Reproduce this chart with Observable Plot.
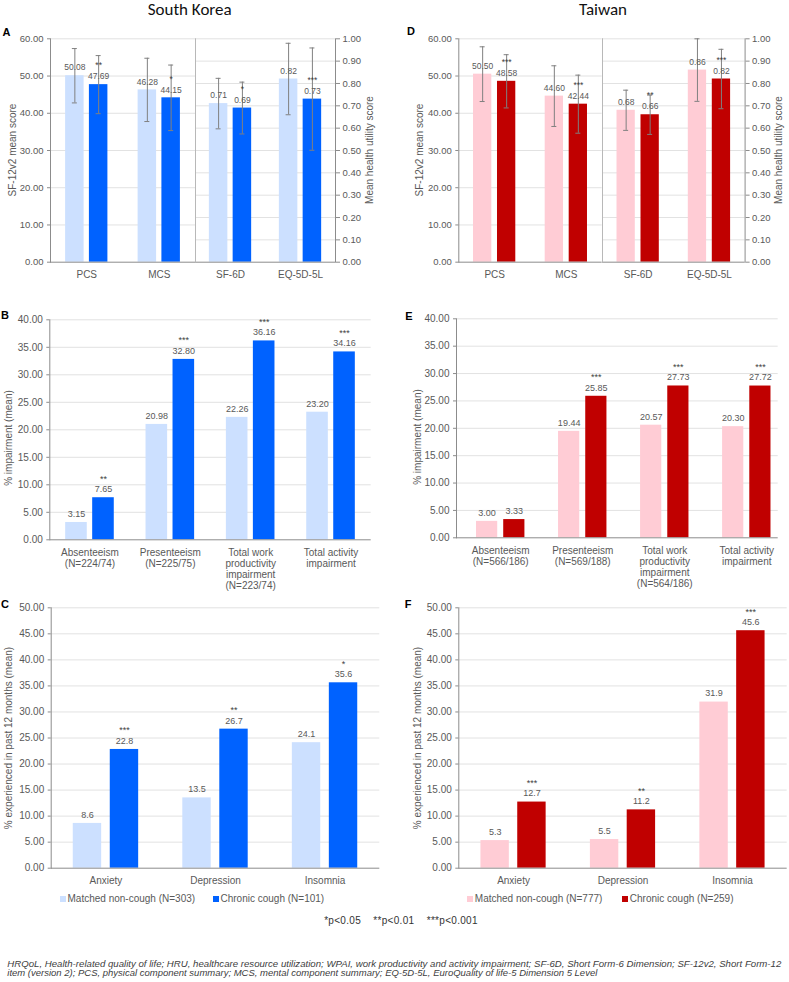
<!DOCTYPE html>
<html>
<head>
<meta charset="utf-8">
<script src="https://cdn.jsdelivr.net/npm/d3@7"></script>
<script src="https://cdn.jsdelivr.net/npm/@observablehq/plot@0.6"></script>
<style>
  html, body { margin: 0; padding: 0; background: #fff; }
  #root { position: relative; width: 789px; height: 982px; overflow: hidden; background: #fff;
          font-family: "Liberation Sans", Arial, Helvetica, sans-serif; color: #595959; }
  .lbl { position: absolute; white-space: nowrap; line-height: 1; transform: translate(-50%, -50%); }
  .rot { transform: translate(-50%, -50%) rotate(-90deg); font-size: 10px; }
  .title { font-family: Carlito, Lato, "Open Sans", sans-serif; font-size: 17px; font-weight: 300; color: #111; }
  .letter { font-weight: bold; font-size: 11px; color: #000; }
  .leg { position: absolute; white-space: nowrap; font-size: 10px; line-height: 1; transform: translateY(-50%); }
  .sq { position: absolute; width: 6px; height: 6px; transform: translateY(-50%); }
</style>
</head>
<body>
<div id="root"></div>
<script>
// ---------------- DATA ----------------
// Panel A / D : HRQoL
const scoreCats = ["PCS", "MCS"];
const utilCats = ["SF-6D", "EQ-5D-5L"];

const krScoreMatched = [50.08, 46.28];
const krScoreChronic = [47.69, 44.15];
const krScoreMatchedSD = [7.3, 8.5];
const krScoreChronicSD = [7.8, 8.8];
const krScoreStars = ["**", "*"];
const krUtilMatched = [0.71, 0.82];
const krUtilChronic = [0.69, 0.73];
const krUtilMatchedSD = [0.113, 0.16];
const krUtilChronicSD = [0.116, 0.229];
const krUtilStars = ["*", "***"];

const twScoreMatched = [50.50, 44.60];
const twScoreChronic = [48.58, 42.44];
const twScoreMatchedSD = [7.35, 8.15];
const twScoreChronicSD = [7.15, 7.8];
const twScoreStars = ["***", "***"];
const twUtilMatched = [0.68, 0.86];
const twUtilChronic = [0.66, 0.82];
const twUtilMatchedSD = [0.09, 0.14];
const twUtilChronicSD = [0.088, 0.133];
const twUtilStars = ["**", "***"];

// Panel B / E : WPAI
const wpaiCats = ["Absenteeism", "Presenteeism", "Total work productivity impairment", "Total activity impairment"];
const krWpaiTicks = ["Absenteeism\n(N=224/74)", "Presenteeism\n(N=225/75)", "Total work\nproductivity\nimpairment\n(N=223/74)", "Total activity\nimpairment"];
const twWpaiTicks = ["Absenteeism\n(N=566/186)", "Presenteeism\n(N=569/188)", "Total work\nproductivity\nimpairment\n(N=564/186)", "Total activity\nimpairment"];
const krWpaiMatched = [3.15, 20.98, 22.26, 23.20];
const krWpaiChronic = [7.65, 32.80, 36.16, 34.16];
const krWpaiStars = ["**", "***", "***", "***"];
const twWpaiMatched = [3.00, 19.44, 20.57, 20.30];
const twWpaiChronic = [3.33, 25.85, 27.73, 27.72];
const twWpaiStars = ["", "***", "***", "***"];

// Panel C / F : mental health
const mhCats = ["Anxiety", "Depression", "Insomnia"];
const krMhMatched = [8.6, 13.5, 24.1];
const krMhChronic = [22.8, 26.7, 35.6];
const krMhStars = ["***", "**", "*"];
const twMhMatched = [5.3, 5.5, 31.9];
const twMhChronic = [12.7, 11.2, 45.6];
const twMhStars = ["***", "**", "***"];

// Tick values
const scoreTicks = d3.range(0, 61, 10);
const utilTicks = d3.range(0, 11).map(i => i / 10);
const wpaiTicks = d3.range(0, 41, 5);
const mhTicks = d3.range(0, 51, 5);

// Legends / texts
const krLegend = ["Matched non-cough (N=303)", "Chronic cough (N=101)"];
const twLegend = ["Matched non-cough (N=777)", "Chronic cough (N=259)"];
const pNote = "*p<0.05    **p<0.01    ***p<0.001";
const footnote = [
  "HRQoL, Health-related quality of life; HRU, healthcare resource utilization; WPAI, work productivity and activity impairment; SF-6D, Short Form-6 Dimension; SF-12v2, Short Form-12",
  "item (version 2); PCS, physical component summary; MCS, mental component summary; EQ-5D-5L, EuroQuality of life-5 Dimension 5 Level"
];

// ---------------- STYLE ----------------
const FONT = '"Liberation Sans", Arial, Helvetica, sans-serif';
const TEXT = "#595959";
const AXIS = "#8c8c8c";
const GRID = "#e2e2e2";
const ERR = "#808080";
const DIV = "#b8b8b8";
const KR_LIGHT = "#cce0ff", KR_DARK = "#0062ff";
const TW_LIGHT = "#ffccd5", TW_DARK = "#c00000";

const root = document.getElementById("root");
const f2 = d3.format(".2f"), f1 = d3.format(".1f");

function place(node, left, top) {
  node.style.position = "absolute";
  node.style.left = left + "px";
  node.style.top = top + "px";
  root.appendChild(node);
}

function panel(o) {
  const rows = o.cats.map((cat, i) => ({
    cat, m: o.matched[i], c: o.chronic[i],
    sm: o.sdM ? o.sdM[i] : null, sc: o.sdC ? o.sdC[i] : null,
    star: o.stars[i], tick: o.tickLabels ? o.tickLabels[i] : cat
  }));
  const xiL = o.xInsetL || 0, xiR = o.xInsetR || 0;
  const step = (o.width - o.mL - o.mR - xiL - xiR) / o.cats.length;
  const off = (step - 2 * o.barW - o.gap) / 2;
  const dx = (o.barW + o.gap) / 2;
  const cap = 5;
  const capL = off + o.barW / 2 - cap / 2;
  const capD = off + o.barW + o.gap + o.barW / 2 - cap / 2;
  const tickText = new Map(rows.map(r => [r.cat, r.tick]));
  const marks = [
    Plot.gridY(o.grid, {stroke: GRID, strokeOpacity: 1}),
    Plot.barY(rows, {x: "cat", y: "m", fill: o.light, insetLeft: off, insetRight: step - off - o.barW}),
    Plot.barY(rows, {x: "cat", y: "c", fill: o.dark, insetLeft: off + o.barW + o.gap, insetRight: off}),
    Plot.ruleY([0], {stroke: AXIS})
  ];
  if (o.sdM) {
    marks.push(
      Plot.ruleX(rows, {x: "cat", y1: d => d.m - d.sm, y2: d => d.m + d.sm, dx: -dx, stroke: ERR}),
      Plot.ruleX(rows, {x: "cat", y1: d => d.c - d.sc, y2: d => d.c + d.sc, dx: dx, stroke: ERR}),
      Plot.tickY(rows, {x: "cat", y: d => d.m - d.sm, insetLeft: capL, insetRight: step - capL - cap, stroke: ERR}),
      Plot.tickY(rows, {x: "cat", y: d => d.m + d.sm, insetLeft: capL, insetRight: step - capL - cap, stroke: ERR}),
      Plot.tickY(rows, {x: "cat", y: d => d.c - d.sc, insetLeft: capD, insetRight: step - capD - cap, stroke: ERR}),
      Plot.tickY(rows, {x: "cat", y: d => d.c + d.sc, insetLeft: capD, insetRight: step - capD - cap, stroke: ERR})
    );
  }
  marks.push(
    Plot.text(rows, {x: "cat", y: "m", text: d => o.fmt(d.m), dx: -dx, dy: o.labelDy, fontSize: o.labelSize, fill: TEXT}),
    Plot.text(rows, {x: "cat", y: "c", text: d => o.fmt(d.c), dx: dx, dy: o.labelDy, fontSize: o.labelSize, fill: TEXT}),
    Plot.text(rows, {x: "cat", y: "c", text: "star", dx: dx, dy: o.starDy, fontSize: o.labelSize, fill: "#404040"})
  );
  marks.push(
    Plot.frame({anchor: o.axis, stroke: AXIS}),
    Plot.axisY(o.ticks, {anchor: o.axis, tickSize: o.tickSize, tickPadding: o.tickPadding, tickFormat: f2,
      stroke: AXIS, fill: TEXT, fontSize: o.tickFont, label: null})
  );
  if (o.divider) marks.push(Plot.frame({anchor: "left", stroke: DIV}));
  marks.push(Plot.axisX({tickSize: 0, tickPadding: 8, label: null, fill: TEXT, fontSize: 10, lineHeight: 1.1,
    tickFormat: d => tickText.get(d)}));
  const svg = Plot.plot({
    width: o.width, height: o.height,
    marginLeft: o.mL, marginRight: o.mR, marginTop: o.mT, marginBottom: o.mB,
    x: {domain: o.cats, padding: 0, round: false, insetLeft: xiL, insetRight: xiR, label: null},
    y: {domain: o.yDomain, label: null},
    style: {background: "transparent", overflow: "visible", fontFamily: FONT, fontSize: "10px", color: TEXT},
    marks
  });
  place(svg, o.left, o.top);
}

const common = {labelDy: -8.5, starDy: -19, tickSize: 3, tickPadding: 4};

// ----- Panel A (South Korea HRQoL)
panel({...common, left: 0, top: 20, width: 196, height: 270, mL: 50, mR: 1, mT: 18.3, mB: 28.3,
  cats: scoreCats, matched: krScoreMatched, chronic: krScoreChronic, sdM: krScoreMatchedSD, sdC: krScoreChronicSD,
  stars: krScoreStars, fmt: f2, light: KR_LIGHT, dark: KR_DARK, barW: 18.5, gap: 5.3,
  yDomain: [0, 60], ticks: scoreTicks, grid: scoreTicks.slice(1), axis: "left", labelSize: 8.5, tickFont: 9.5, labelDy: -8});
panel({...common, left: 195, top: 20, width: 200, height: 270, mL: 0, mR: 60, mT: 18.3, mB: 28.3,
  cats: utilCats, matched: krUtilMatched, chronic: krUtilChronic, sdM: krUtilMatchedSD, sdC: krUtilChronicSD,
  stars: krUtilStars, fmt: f2, light: KR_LIGHT, dark: KR_DARK, barW: 18.5, gap: 5.3,
  yDomain: [0, 1], ticks: utilTicks, grid: utilTicks.slice(1), axis: "right", tickSize: 4, tickPadding: 3,
  divider: true, labelSize: 8.5, tickFont: 9.5, labelDy: -8});

// ----- Panel D (Taiwan HRQoL)
panel({...common, left: 395, top: 20, width: 207.7, height: 270, mL: 63.3, mR: 1, mT: 18.3, mB: 28.3,
  cats: scoreCats, matched: twScoreMatched, chronic: twScoreChronic, sdM: twScoreMatchedSD, sdC: twScoreChronicSD,
  stars: twScoreStars, fmt: f2, light: TW_LIGHT, dark: TW_DARK, barW: 18.3, gap: 5.7,
  yDomain: [0, 60], ticks: scoreTicks, grid: scoreTicks.slice(1), axis: "left", labelSize: 8.5, tickFont: 9.5, labelDy: -8});
panel({...common, left: 601.7, top: 20, width: 187.3, height: 270, mL: 0, mR: 44.7, mT: 18.3, mB: 28.3,
  cats: utilCats, matched: twUtilMatched, chronic: twUtilChronic, sdM: twUtilMatchedSD, sdC: twUtilChronicSD,
  stars: twUtilStars, fmt: f2, light: TW_LIGHT, dark: TW_DARK, barW: 18.3, gap: 5.7,
  yDomain: [0, 1], ticks: utilTicks, grid: utilTicks.slice(1), axis: "right", tickSize: 4, tickPadding: 3,
  divider: true, labelSize: 8.5, tickFont: 9.5, labelDy: -8});

// ----- Panel B (South Korea WPAI)
panel({...common, left: 0, top: 300, width: 395, height: 290, mL: 49.3, mR: 24.3, mT: 19.3, mB: 50.7,
  cats: wpaiCats, tickLabels: krWpaiTicks, matched: krWpaiMatched, chronic: krWpaiChronic, stars: krWpaiStars,
  fmt: f2, light: KR_LIGHT, dark: KR_DARK, barW: 21.6, gap: 5.4,
  yDomain: [0, 40], ticks: wpaiTicks, grid: wpaiTicks.slice(1), axis: "left", labelSize: 9, tickFont: 10});

// ----- Panel E (Taiwan WPAI)
panel({...common, left: 395, top: 300, width: 394, height: 290, mL: 61, mR: 11.3, mT: 18.3, mB: 52.7,
  xInsetL: 3.2, xInsetR: -9.6,
  cats: wpaiCats, tickLabels: twWpaiTicks, matched: twWpaiMatched, chronic: twWpaiChronic, stars: twWpaiStars,
  fmt: f2, light: TW_LIGHT, dark: TW_DARK, barW: 21.2, gap: 6,
  yDomain: [0, 40], ticks: wpaiTicks, grid: wpaiTicks.slice(1), axis: "left", labelSize: 9, tickFont: 10});

// ----- Panel C (South Korea mental health)
panel({...common, left: 0, top: 590, width: 395, height: 300, mL: 50.7, mR: 15.7, mT: 17.3, mB: 22.3,
  cats: mhCats, matched: krMhMatched, chronic: krMhChronic, stars: krMhStars,
  fmt: f1, light: KR_LIGHT, dark: KR_DARK, barW: 28.4, gap: 8.6,
  yDomain: [0, 50], ticks: mhTicks, grid: mhTicks.slice(1), axis: "left", labelSize: 9, tickFont: 10});

// ----- Panel F (Taiwan mental health)
panel({...common, left: 395, top: 590, width: 394, height: 300, mL: 63.3, mR: 2.3, mT: 17.3, mB: 22.3,
  cats: mhCats, matched: twMhMatched, chronic: twMhChronic, stars: twMhStars,
  fmt: f1, light: TW_LIGHT, dark: TW_DARK, barW: 28.4, gap: 8.4,
  yDomain: [0, 50], ticks: mhTicks, grid: mhTicks.slice(1), axis: "left", labelSize: 9, tickFont: 10});

// ---------------- TEXT ----------------
function label(text, cx, cy, cls) {
  const d = document.createElement("div");
  d.className = "lbl " + (cls || "");
  d.textContent = text;
  d.style.left = cx + "px";
  d.style.top = cy + "px";
  root.appendChild(d);
  return d;
}
label("South Korea", 189.7, 9, "title");
label("Taiwan", 603, 9, "title");
[["A", 6.5, 31.7], ["D", 411, 30.5], ["B", 5, 315], ["E", 409, 315.7], ["C", 5, 604], ["F", 408, 604]]
  .forEach(([t, x, y]) => label(t, x, y, "letter"));

label("SF-12v2 mean score", 12.5, 150, "rot");
label("Mean health utility score", 370, 150, "rot");
label("SF-12v2 mean score", 419.5, 150, "rot");
label("Mean health utility score", 778.5, 150, "rot");
label("% impairment (mean)", 9, 438, "rot");
label("% impairment (mean)", 417.5, 437, "rot");
label("% experienced in past 12 months (mean)", 9, 738, "rot");
label("% experienced in past 12 months (mean)", 417.5, 738, "rot");

function legendItem(text, color, x, y) {
  const s = document.createElement("div");
  s.className = "sq"; s.style.left = x + "px"; s.style.top = y + "px"; s.style.background = color;
  root.appendChild(s);
  const t = document.createElement("div");
  t.className = "leg"; t.textContent = text; t.style.left = (x + 7.5) + "px"; t.style.top = y + "px";
  root.appendChild(t);
}
legendItem(krLegend[0], KR_LIGHT, 60, 898.7);
legendItem(krLegend[1], KR_DARK, 213, 898.7);
legendItem(twLegend[0], TW_LIGHT, 467.3, 898.7);
legendItem(twLegend[1], TW_DARK, 622.3, 898.7);

const pn = label(pNote, 401, 921, "");
pn.style.fontSize = "10px"; pn.style.color = "#333"; pn.style.whiteSpace = "pre"; pn.style.letterSpacing = "0.3px";

// footnote (SVG text fitted to the original line lengths)
const ns = "http://www.w3.org/2000/svg";
const fsvg = document.createElementNS(ns, "svg");
fsvg.setAttribute("width", 789); fsvg.setAttribute("height", 30);
fsvg.style.position = "absolute"; fsvg.style.left = "0px"; fsvg.style.top = "952px";
[[footnote[0], 15, 774], [footnote[1], 24.3, 590]].forEach(([t, y, len]) => {
  const el = document.createElementNS(ns, "text");
  el.setAttribute("x", 7.3); el.setAttribute("y", y);
  el.setAttribute("textLength", len); el.setAttribute("lengthAdjust", "spacingAndGlyphs");
  el.setAttribute("font-size", "9"); el.setAttribute("font-style", "italic");
  el.setAttribute("font-family", FONT); el.setAttribute("fill", "#404040");
  el.textContent = t;
  fsvg.appendChild(el);
});
root.appendChild(fsvg);
</script>
</body>
</html>
